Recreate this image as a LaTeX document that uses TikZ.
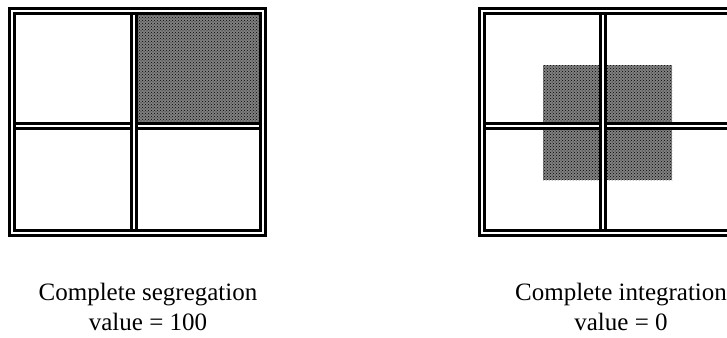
\documentclass[tikz,border=0pt]{standalone}
\usepackage{fontspec}
\setmainfont{Liberation Serif}
\usetikzlibrary{patterns}

\begin{document}
\begin{tikzpicture}[x=1pt, y=-1pt]
\useasboundingbox (0,0) rectangle (727,337);
\clip (0,0) rectangle (727,337);

% left grid (segregation)
\coordinate (S1_1) at (12, 11);
\coordinate (S1_2) at (134, 11);
\coordinate (S1_3) at (263, 11);
\coordinate (S2_1) at (12, 126);
\coordinate (S2_3) at (263, 126);
\coordinate (S3_1) at (12, 233);
\coordinate (S3_2) at (134, 233);
\coordinate (S3_3) at (263, 233);

% right grid (integration), runs off the page
\coordinate (I1_1) at (482, 11);
\coordinate (I1_2) at (603, 11);
\coordinate (I1_3) at (736, 11);
\coordinate (I2_1) at (482, 126);
\coordinate (I2_3) at (736, 126);
\coordinate (I3_1) at (482, 233);
\coordinate (I3_2) at (603, 233);
\coordinate (I3_3) at (736, 233);

\tikzset{ShadeStyle/.style = {preaction = {fill = black!50}, pattern = crosshatch dots, pattern color = black} }

\fill[ShadeStyle] (137.75, 14.5) rectangle (259.5, 122.25);
\fill[ShadeStyle] (543, 65) rectangle (672, 180);

\tikzset{EdgeStyle/.style = {line width=3.4pt, double=white, double distance=1.5pt} }

\draw[EdgeStyle] (S2_1) -- (S2_3);
\draw[EdgeStyle] (S1_2) -- (S3_2);
\draw[EdgeStyle] (S1_1) rectangle (S3_3);

\draw[EdgeStyle] (I2_1) -- (I2_3);
\draw[EdgeStyle] (I1_2) -- (I3_2);
\draw[EdgeStyle] (I1_1) rectangle (I3_3);

\tikzset{LabelStyle/.style = {
 anchor = north,
 align = center,
 inner sep = 0pt,
 font = \fontsize{25}{30}\selectfont} }

\node[LabelStyle] (segText) at (148, 283) {Complete segregation\\value = 100};
\node[LabelStyle] (intText) at (621, 283) {Complete integration\\value = 0};

\end{tikzpicture}
\end{document}
